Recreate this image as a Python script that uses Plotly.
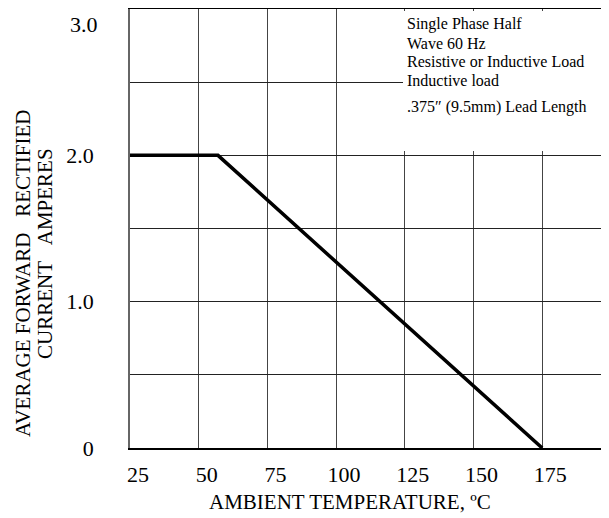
import plotly.graph_objects as go

# Derating curve data
temp_c = [25, 57, 175]
current_a = [2.0, 2.0, 0.0]

x_ticks = [25, 50, 75, 100, 125, 150, 175]
x_tick_labels = ["25", "50", "75", "100", "125", "150", "175"]
y_ticks = [0, 0.5, 1.0, 1.5, 2.0, 2.5, 3.0]
y_tick_labels = ["0", "", "1.0", "", "2.0", "", ""]
y_top_label = "3.0"

note_lines = [
    "Single Phase Half",
    "Wave 60 Hz",
    "Resistive or Inductive Load",
    "Inductive load",
    ".375\u2033 (9.5mm) Lead Length",
]
note_y_px = [24, 43, 62, 81, 107]

FONT = "Liberation Serif"
OFF = 8  # page body margin in the screenshot
W, H = 609 - OFF, 518 - OFF
L, R, T, B = 122, 0, 1, 70
PW, PH = W - L - R, H - T - B

def px_to_paper_x(px):
    return (px - OFF - L) / PW

def px_to_paper_y(py):
    return (H - B - (py - OFF)) / PH

fig = go.Figure()
fig.add_trace(go.Scatter(
    x=temp_c, y=current_a, mode="lines",
    line=dict(color="black", width=3.5),
    hoverinfo="skip", showlegend=False,
))

fig.update_layout(
    width=W, height=H,
    margin=dict(l=L, r=R, t=T, b=B),
    paper_bgcolor="white", plot_bgcolor="white",
    font=dict(family=FONT, color="black"),
    showlegend=False,
)

fig.update_xaxes(
    range=[25, 25 + PW / 68.7 * 25],
    tickvals=x_ticks, ticktext=x_tick_labels,
    showgrid=True, gridcolor="#444", gridwidth=1,
    zeroline=False,
    showline=True, linecolor="black", linewidth=1.5, mirror=True,
    ticks="", tickfont=dict(family=FONT, size=22, color="black"),
    ticklabelstandoff=6, ticklabelshift=8,
)
fig.update_yaxes(
    range=[0, 3.0],
    tickvals=y_ticks, ticktext=y_tick_labels,
    showgrid=True, gridcolor="#222", gridwidth=1,
    zeroline=False,
    showline=True, linecolor="#666", linewidth=1.5,
    ticks="", tickfont=dict(family=FONT, size=22, color="black"),
    ticklabelstandoff=30,
)

# Top tick label, sitting just below the top border as in the reference
fig.add_annotation(
    text=y_top_label, xref="paper", yref="y",
    x=0, y=3.0, xanchor="right", yanchor="top",
    xshift=-30, yshift=-1, showarrow=False,
    font=dict(family=FONT, size=22, color="black"),
)

# White box behind the notes, covering the grid
fig.add_shape(
    type="rect", xref="paper", yref="paper",
    x0=px_to_paper_x(403), x1=1.0,
    y0=px_to_paper_y(151), y1=px_to_paper_y(11),
    fillcolor="white", line=dict(width=0), layer="above",
)

for txt, py in zip(note_lines, note_y_px):
    fig.add_annotation(
        text=txt, xref="paper", yref="paper",
        x=px_to_paper_x(405), y=px_to_paper_y(py),
        xanchor="left", yanchor="middle", showarrow=False,
        font=dict(family=FONT, size=16, color="black"),
    )

# Axis titles
fig.add_annotation(
    text="AMBIENT TEMPERATURE, \u00baC", xref="paper", yref="paper",
    x=px_to_paper_x(350), y=px_to_paper_y(502),
    xanchor="center", yanchor="middle", showarrow=False,
    font=dict(family=FONT, size=21, color="black"),
)
fig.add_annotation(
    text="AVERAGE FORWARD\u00a0\u00a0\u00a0RECTIFIED", xref="paper", yref="paper",
    x=px_to_paper_x(23), y=px_to_paper_y(274), textangle=-90,
    xanchor="center", yanchor="middle", showarrow=False,
    font=dict(family=FONT, size=21, color="black"),
)
fig.add_annotation(
    text="CURRENT\u00a0\u00a0\u00a0AMPERES", xref="paper", yref="paper",
    x=px_to_paper_x(45), y=px_to_paper_y(254), textangle=-90,
    xanchor="center", yanchor="middle", showarrow=False,
    font=dict(family=FONT, size=21, color="black"),
)

fig.write_html("out.html")
